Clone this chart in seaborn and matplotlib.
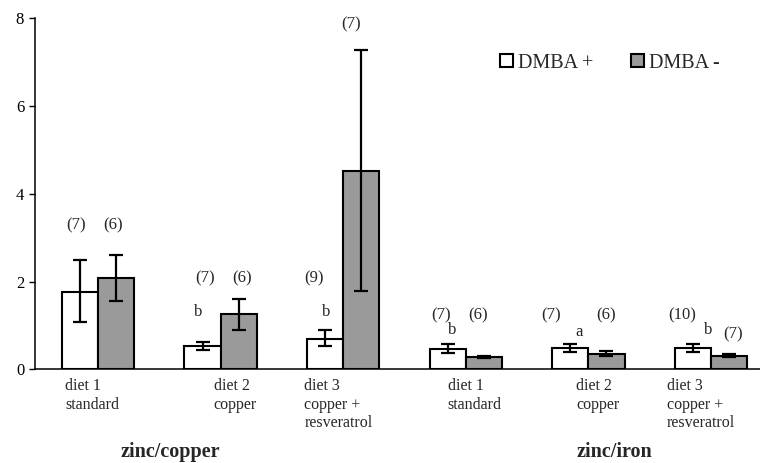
import matplotlib
matplotlib.use("Agg")
import matplotlib.pyplot as plt
import seaborn as sns
import pandas as pd
from matplotlib.patches import Patch
from matplotlib.transforms import blended_transform_factory

# ── Data ─────────────────────────────────────────────────────────────────────
panels     = ["zinc/copper", "zinc/iron"]
diets      = ["diet 1\nstandard", "diet 2\ncopper", "diet 3\ncopper +\nresveratrol"]
treatments = ["DMBA +", "DMBA -"]

pos_mean = [1.77, 0.52, 0.69, 0.46, 0.49, 0.49]
pos_lo   = [1.07, 0.44, 0.52, 0.38, 0.39, 0.40]
pos_hi   = [2.49, 0.62, 0.90, 0.57, 0.57, 0.57]
neg_mean = [2.09, 1.25, 4.53, 0.27, 0.36, 0.31]
neg_lo   = [1.56, 0.90, 1.79, 0.25, 0.30, 0.29]
neg_hi   = [2.60, 1.60, 7.27, 0.30, 0.42, 0.34]

n_pos   = ["(7)", "(7)", "(9)", "(7)", "(7)", "(10)"]
n_neg   = ["(6)", "(6)", "(7)", "(6)", "(6)", "(7)"]
letters = ["", "b", "b", "b", "a", "b"]

yticks = [0, 2, 4, 6, 8]

# ── Layout for text (pixel offsets from bar centres, y in data units) ─────────
n_pos_dx  = [-3.5, 2.5, -11, -7, -19, -10.5]
n_neg_dx  = [-3.5, 3, -10, -6, 0, 4.5]
letter_dx = [0, -4.5, 1, 4.5, 9, 15.5]
n_pos_y   = [3.29, 2.08, 2.08, 1.24, 1.24, 1.24]
n_neg_y   = [3.29, 2.08, 7.86, 1.24, 1.24, 0.80]
letter_y  = [0, 1.30, 1.30, 0.90, 0.85, 0.90]
diet_dx   = [-33, -7, -39, -18, -12, -44]
panel_x   = [0.59, 4.21]

categories = [f"{p} {d}" for p in panels for d in diets]
diet_labels = [d for _ in panels for d in diets]

df = pd.DataFrame({
    "category":  categories * 2,
    "treatment": [treatments[0]] * 6 + [treatments[1]] * 6,
    "value":     pos_mean + neg_mean,
})

GREY = "#9a9a9a"
PX2PT = 72 / 100

sns.set_style("ticks")
plt.rcParams["font.family"] = ["Liberation Serif", "DejaVu Serif"]

fig = plt.figure(figsize=(7.6, 4.63), dpi=100)
ax = fig.add_axes([35 / 760, 1 - 369.3 / 463, 725 / 760, 351 / 463])

sns.barplot(
    data=df, x="category", y="value", hue="treatment",
    order=categories, hue_order=treatments,
    palette={treatments[0]: "white", treatments[1]: GREY},
    edgecolor="black", linewidth=1.5, width=0.59,
    errorbar=None, legend=False, ax=ax,
)

# error bars on top of each bar
for cont, mean, lo, hi in zip(ax.containers,
                              [pos_mean, neg_mean],
                              [pos_lo, neg_lo],
                              [pos_hi, neg_hi]):
    xs = [b.get_x() + b.get_width() / 2 for b in cont]
    yerr = [[m - l for m, l in zip(mean, lo)], [h - m for m, h in zip(mean, hi)]]
    ax.errorbar(xs, mean, yerr=yerr, fmt="none", ecolor="black",
                elinewidth=1.6, capsize=5, capthick=1.6, zorder=5)

# n-labels and significance letters
pos_x = [b.get_x() + b.get_width() / 2 for b in ax.containers[0]]
neg_x = [b.get_x() + b.get_width() / 2 for b in ax.containers[1]]
for i in range(6):
    ax.annotate(n_pos[i], (pos_x[i], n_pos_y[i]), xytext=(n_pos_dx[i] * PX2PT, 0),
                textcoords="offset points", ha="center", va="center", fontsize=12)
    ax.annotate(n_neg[i], (neg_x[i], n_neg_y[i]), xytext=(n_neg_dx[i] * PX2PT, 0),
                textcoords="offset points", ha="center", va="center", fontsize=12)
    if letters[i]:
        ax.annotate(letters[i], (pos_x[i], letter_y[i]), xytext=(letter_dx[i] * PX2PT, 0),
                    textcoords="offset points", ha="center", va="center", fontsize=12)

# diet labels under the axis
trans = blended_transform_factory(ax.transData, ax.transAxes)
for i, lab in enumerate(diet_labels):
    ax.annotate(lab, (i, 0), xycoords=trans, xytext=(diet_dx[i] * PX2PT, -9 * PX2PT),
                textcoords="offset points", ha="left", va="top",
                fontsize=11.5, linespacing=1.2)

for x, lab in zip(panel_x, panels):
    ax.annotate(lab, (x, 0), xycoords=trans, xytext=(0, -83 * PX2PT),
                textcoords="offset points", ha="center", va="center",
                fontsize=14.5, fontweight="bold")

ax.set_xlim(-0.514, 5.40)
ax.set_ylim(0, 8)
ax.set_yticks(yticks)
ax.set_xticks([])
ax.set_xlabel("")
ax.set_ylabel("")
ax.tick_params(axis="y", length=4.3, width=1, pad=3.5, labelsize=12, colors="black")
sns.despine(ax=ax)
for side in ["left", "bottom"]:
    ax.spines[side].set_color("black")
    ax.spines[side].set_linewidth(1.1)

handles = [Patch(facecolor="white", edgecolor="black", linewidth=1.5),
           Patch(facecolor=GREY, edgecolor="black", linewidth=1.5)]
fig.legend(handles, treatments, loc="center left",
           bbox_to_anchor=(500 / 760, 1 - 63 / 463), ncol=2, frameon=False,
           fontsize=14.5, borderpad=0, borderaxespad=0,
           handlelength=0.65, handleheight=0.65, handletextpad=0.25,
           columnspacing=1.85)

fig.savefig("out.png", dpi=100)
plt.close(fig)
